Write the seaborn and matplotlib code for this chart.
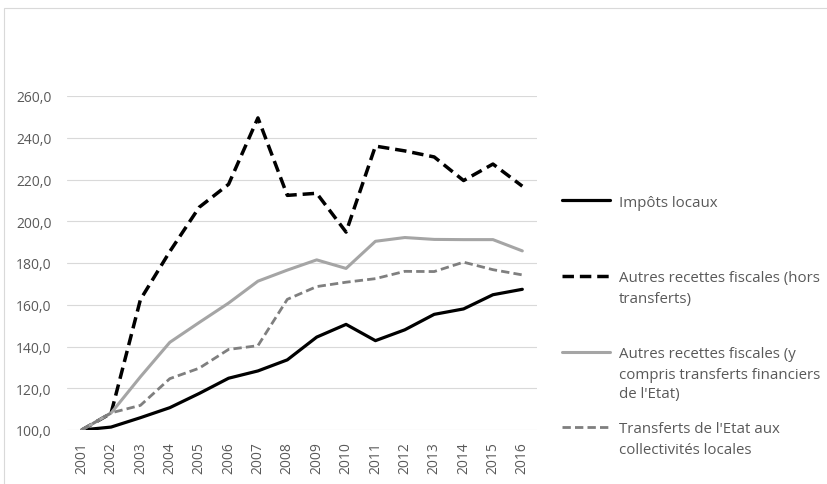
import matplotlib
matplotlib.use("Agg")
import matplotlib.pyplot as plt
import matplotlib.ticker as mticker
from matplotlib.patches import Rectangle
from matplotlib.text import Annotation
import seaborn as sns
import pandas as pd

years = [str(y) for y in range(2001, 2017)]
impots_locaux = [100, 101.4, 105.9, 110.7, 117.5, 124.8, 128.3, 133.6, 144.5, 150.6, 142.8, 148.0, 155.4, 158.0, 164.8, 167.4]
autres_hors = [100, 108.0, 162.5, 185.5, 206.7, 217.7, 249.5, 212.4, 213.4, 194.8, 236.0, 233.7, 230.8, 219.5, 227.4, 216.8]
autres_y_compris = [100, 108.1, 125.5, 142.0, 151.5, 160.8, 171.3, 176.6, 181.5, 177.4, 190.4, 192.2, 191.3, 191.2, 191.2, 185.8]
transferts = [100, 108.2, 111.8, 124.6, 129.6, 138.6, 140.4, 162.6, 168.7, 170.8, 172.5, 176.0, 175.9, 180.4, 176.8, 174.3]

series_names = [
    "Impôts locaux",
    "Autres recettes fiscales (hors transferts)",
    "Autres recettes fiscales (y compris transferts financiers de l'Etat)",
    "Transferts de l'Etat aux collectivités locales",
]
# how the legend labels wrap in the reference
legend_lines = [
    ["Impôts locaux"],
    ["Autres recettes fiscales (hors", "transferts)"],
    ["Autres recettes fiscales (y", "compris transferts financiers", "de l'Etat)"],
    ["Transferts de l'Etat aux", "collectivités locales"],
]
series_values = [impots_locaux, autres_hors, autres_y_compris, transferts]
y_ticks = [100, 120, 140, 160, 180, 200, 220, 240, 260]

rows = []
for name, vals in zip(series_names, series_values):
    for yr, v in zip(years, vals):
        rows.append({"year": yr, "value": v, "series": name})
df = pd.DataFrame(rows)

sns.set_theme(style="white")
plt.rcParams["font.family"] = ["Open Sans", "DejaVu Sans"]

colors = ["#000000", "#000000", "#A5A5A5", "#7F7F7F"]
dash_map = {
    series_names[0]: "",
    series_names[1]: (3.3, 1.7),
    series_names[2]: "",
    series_names[3]: (3.0, 1.5),
}
widths = [2.3, 2.5, 2.2, 2.0]

fig = plt.figure(figsize=(8.28, 4.85), dpi=100)
ax = fig.add_axes([67 / 828, 1 - 431 / 485, 470 / 828, (431 - 97) / 485])

sns.lineplot(data=df, x="year", y="value", hue="series", style="series",
             hue_order=series_names, style_order=series_names,
             palette=colors, dashes=dash_map, sort=False, legend=False, ax=ax)

lines = ax.get_lines()[:4]
for ln, w in zip(lines, widths):
    ln.set_linewidth(w)
    ln.set_solid_capstyle("round")
    ln.set_solid_joinstyle("round")

ax.set_xlim(-0.5, len(years) - 0.5)
ax.set_ylim(100, 260)
ax.set_yticks(y_ticks)
ax.yaxis.set_major_formatter(mticker.FuncFormatter(lambda v, p: f"{v:.1f}".replace(".", ",")))
ax.grid(axis="y", color="#D9D9D9", linewidth=0.8)
ax.set_axisbelow(True)
for s in ax.spines.values():
    s.set_visible(False)
ax.set_xlabel("")
ax.set_ylabel("")
ax.tick_params(axis="y", length=0, pad=11, labelsize=10, labelcolor="#595959")
ax.tick_params(axis="x", length=0, pad=8, labelsize=10, labelcolor="#595959", labelrotation=90)

legend_fs = 10.8
leg = fig.legend(lines, [l[0] for l in legend_lines], loc="center left",
                 bbox_to_anchor=(562 / 828, 1 - 316.5 / 485),
                 frameon=False, fontsize=legend_fs, handlelength=3.2,
                 handletextpad=0.6, borderpad=0, borderaxespad=0,
                 labelspacing=4.04)
for t, parts in zip(leg.get_texts(), legend_lines):
    t.set_color("#595959")
    if len(parts) > 1:
        ann = Annotation("\n".join(parts[1:]), xy=(0, 0), xycoords=t,
                         xytext=(0, -6), textcoords="offset pixels",
                         ha="left", va="top", fontsize=legend_fs,
                         color="#595959", linespacing=1.42)
        ann.set_zorder(leg.get_zorder() + 1)
        fig.add_artist(ann)

fig.patches.append(Rectangle((4 / 828, -0.1), 1.2, 1.1 - 9 / 485,
                             transform=fig.transFigure, fill=False,
                             edgecolor="#D9D9D9", linewidth=0.8))

fig.savefig("out.png", dpi=100)
